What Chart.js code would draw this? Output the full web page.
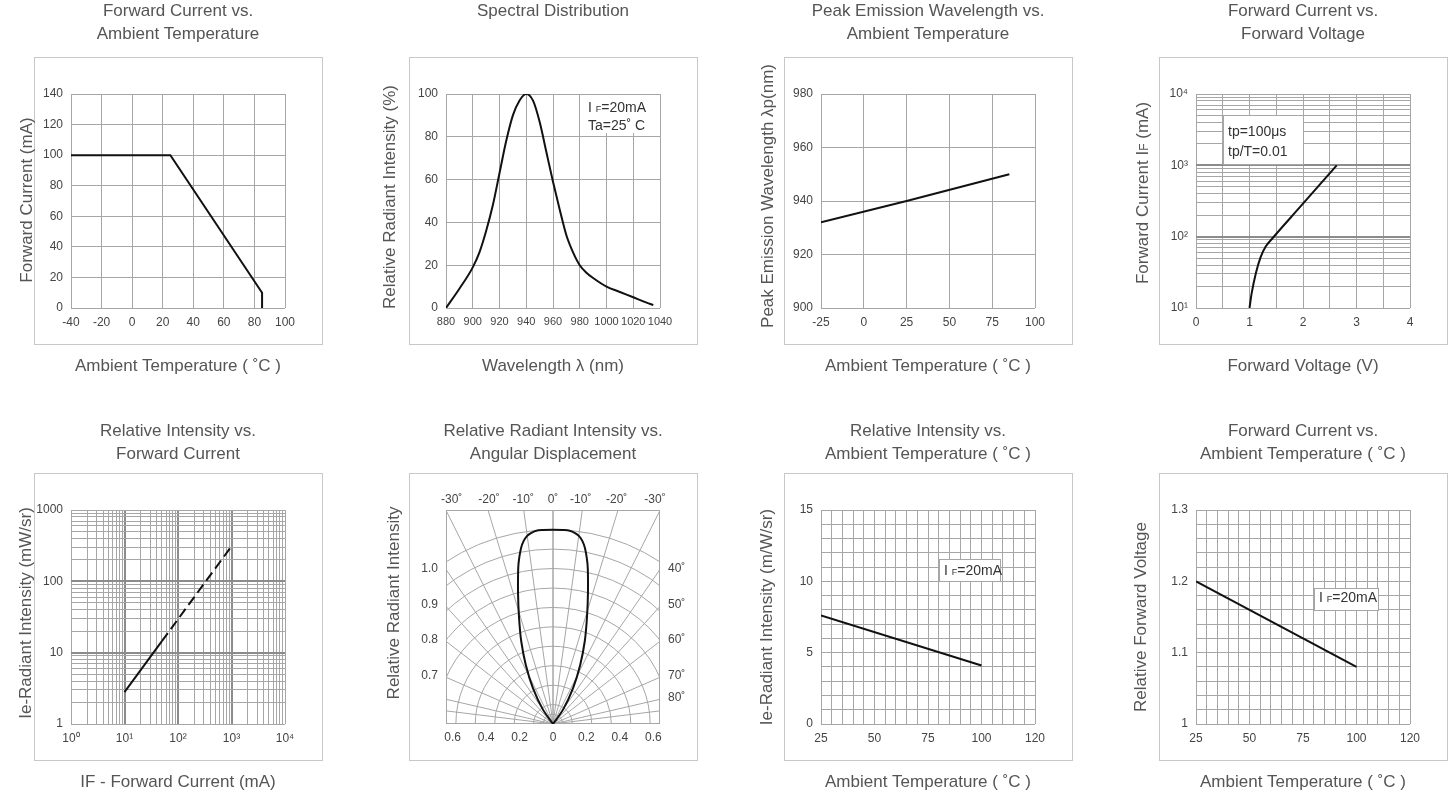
<!DOCTYPE html>
<html>
<head>
<meta charset="utf-8">
<title>IR LED typical characteristics</title>
<script src="https://cdn.jsdelivr.net/npm/chart.js@4.4.1/dist/chart.umd.min.js"></script>
<style>
  html, body { margin: 0; padding: 0; background: #fff; }
  body { width: 1449px; height: 796px; overflow: hidden; position: relative; }
  canvas { position: absolute; }
</style>
</head>
<body>
<canvas id="derate" width="356" height="380" style="left:0px;top:0px"></canvas>
<canvas id="spectrum" width="356" height="380" style="left:375px;top:0px"></canvas>
<canvas id="peak" width="356" height="380" style="left:750px;top:0px"></canvas>
<canvas id="iv" width="356" height="380" style="left:1125px;top:0px"></canvas>
<canvas id="ieIf" width="356" height="380" style="left:0px;top:416px"></canvas>
<canvas id="lobe" width="356" height="380" style="left:375px;top:416px"></canvas>
<canvas id="ieTa" width="356" height="380" style="left:750px;top:416px"></canvas>
<canvas id="vfTa" width="356" height="380" style="left:1125px;top:416px"></canvas>
<script>
// ---- data ----

// forward current derating
const derateTa = [-40, 25, 85, 85];
const derateIf = [100, 100, 10, 0];

// spectral distribution
const specNm = [880, 890, 900, 905, 910, 915, 920, 925, 930, 935, 940, 945, 950, 955, 960, 965, 970, 975, 980, 985, 990, 1000, 1010, 1020, 1030, 1035];
const specPct = [0, 9, 19, 26, 36, 48, 63, 78, 90, 97, 100, 97, 87, 73, 59, 46, 34, 26, 20, 16.5, 14, 10, 7.5, 5, 2.5, 1.4];

// peak wavelength vs ambient temperature
const peakTa = [-25, 25, 85];
const peakNm = [932, 940, 950];

// forward current vs forward voltage
const ivVf = [1.0, 1.04, 1.12, 1.21, 1.3, 1.43, 1.95, 2.63];
const ivIf = [10, 16, 31, 52, 72, 95, 263, 1000];

// radiant intensity vs forward current (solid measured, dashed extended)
const ieSolidIf = [10, 50];
const ieSolid = [2.8, 14.5];
const ieDashIf = [50, 1000];
const ieDash = [14.5, 310];

// radiation lobe, lateral / axial in chart units
const lobeX = [0, -0.060, -0.120, -0.163, -0.190, -0.203, -0.209, -0.208, -0.202, -0.191, -0.176, -0.156, -0.132, -0.100, -0.060, 0,
               0.060, 0.100, 0.132, 0.156, 0.176, 0.191, 0.202, 0.208, 0.209, 0.203, 0.190, 0.163, 0.120, 0.060, 0];
const lobeY = [0, 0.086, 0.215, 0.355, 0.495, 0.634, 0.778, 0.933, 0.993, 1.053, 1.094, 1.124, 1.142, 1.156, 1.160, 1.162,
               1.160, 1.156, 1.142, 1.124, 1.094, 1.053, 0.993, 0.933, 0.778, 0.634, 0.495, 0.355, 0.215, 0.086, 0];
const lobeArcs = [0.058, 0.116, 0.232, 0.349, 0.465, 0.581, 0.697, 0.813, 0.930, 1.046, 1.162];
const lobeRays = [0, 7.8, 16.9, 26.6, 34.7, 42.3, 52.3, 66.4, 77, 83, 90];

// radiant intensity vs ambient temperature
const ieTaX = [25, 100];
const ieTaY = [7.6, 4.1];

// relative forward voltage vs ambient temperature
const vfTaX = [25, 100];
const vfTaY = [1.2, 1.08];

// ---- tick labels ----
const ivXTicks = [0, 1, 2, 3, 4];
const ivXLabels = ['0', '1', '2', '3', '4'];
const ivYTicks = [10, 100, 1000, 10000];
const ivYLabels = ['10¹', '10²', '10³', '10⁴'];
const ieXTicks = [1, 10, 100, 1000, 10000];
const ieXLabels = ['10⁰', '10¹', '10²', '10³', '10⁴'];
const ieYTicks = [1, 10, 100, 1000];
const ieYLabels = ['1', '10', '100', '1000'];
const lobeBottomTicks = [-0.6, -0.4, -0.2, 0, 0.2, 0.4, 0.6];
const lobeBottomLabels = ['0.6', '0.4', '0.2', '0', '0.2', '0.4', '0.6'];
const lobeTopTicks = [-0.606, -0.383, -0.178, 0, 0.166, 0.381, 0.61];
const lobeTopLabels = ['-30˚', '-20˚', '-10˚', '0˚', '-10˚', '-20˚', '-30˚'];
const lobeLeftTicks = [0.931, 0.712, 0.502, 0.287];
const lobeLeftLabels = ['1.0', '0.9', '0.8', '0.7'];
const lobeRightTicks = [0.931, 0.712, 0.502, 0.287, 0.156];
const lobeRightLabels = ['40˚', '50˚', '60˚', '70˚', '80˚'];
const tempTicks = [25, 50, 75, 100, 125];
const tempLabels = ['25', '50', '75', '100', '120'];
const ieTaYTicks = [0, 5, 10, 15];
const ieTaYLabels = ['0', '5', '10', '15'];
const vfYTicks = [1, 1.1, 1.2, 1.3];
const vfYLabels = ['1', '1.1', '1.2', '1.3'];

// ---- look ----
const FONT = "'Liberation Sans', Arial, Helvetica, sans-serif";
const TITLE = '#555';
const TICK = '#444';
const GRID = '#a6a6a6';
const MAJOR = '#8c8c8c';
const FRAME = '#c8c8c8';
const LINE = '#111';

Chart.defaults.font.family = FONT;
Chart.defaults.color = TICK;

function near(a, b) { return Math.abs(a - b) < 1e-6 * Math.max(1, Math.abs(b)); }
function pick(vals, labels) {
  return v => { const i = vals.findIndex(t => near(v, t)); return i < 0 ? '' : labels[i]; };
}
function plain(v) { return String(+(+v).toFixed(6)); }
function decades(lo, hi) {
  const t = [];
  for (let d = lo; d < hi; d *= 10) for (let k = 1; k < 10; k++) t.push(d * k);
  t.push(hi);
  return t;
}

function axis(pos, o) {
  o = o || {};
  const horiz = pos === 'top' || pos === 'bottom';
  const major = o.major || [];
  const a = {
    type: o.type || 'linear',
    position: pos,
    display: true,
    grid: {
      display: !!o.grid,
      drawTicks: false,
      color: c => (c.tick && major.some(m => near(c.tick.value, m)) ? MAJOR : GRID),
      lineWidth: c => (c.tick && major.some(m => near(c.tick.value, m)) ? 2 : 1)
    },
    border: { display: false },
    ticks: {
      display: !!o.label,
      padding: o.pad != null ? o.pad : (horiz ? 7 : 8),
      autoSkip: false,
      maxRotation: 0,
      minRotation: 0,
      color: TICK,
      font: { size: o.fontSize || 12 },
      callback: o.label || (() => '')
    },
    title: {
      display: !!o.title,
      text: o.title || '',
      color: TITLE,
      font: { size: 17 },
      padding: { top: 0, bottom: 3 }
    },
    afterFit: s => { if (horiz) s.height = o.size; else s.width = o.size; }
  };
  if (o.min != null) a.min = o.min;
  if (o.max != null) a.max = o.max;
  if (o.step) a.ticks.stepSize = o.step;
  if (o.ticks) a.afterBuildTicks = s => { s.ticks = o.ticks.map(v => ({ value: v })); };
  return a;
}

function series(xs, ys, extra) {
  return Object.assign({
    data: xs.map((x, i) => ({ x: x, y: ys[i] })),
    showLine: true,
    borderColor: LINE,
    borderWidth: 2,
    pointRadius: 0,
    fill: false,
    tension: 0
  }, extra || {});
}

// grey frame round each plot
const framePlugin = {
  id: 'frame',
  beforeDraw(chart) {
    const a = chart.chartArea, ctx = chart.ctx;
    ctx.save();
    ctx.strokeStyle = FRAME;
    ctx.lineWidth = 1;
    ctx.strokeRect(Math.round(a.left) - 37 + 0.5, Math.round(a.top) - 37 + 0.5, 288, 287);
    ctx.restore();
  }
};

// rotated y titles (drawn by hand so long ones are not squeezed)
const sideTitles = {
  derate: { parts: [['Forward Current (mA)', 17]], x: 26, dy: -1 },
  spectrum: { parts: [['Relative Radiant Intensity (%)', 17]], x: 14, dy: -4 },
  peak: { parts: [['Peak Emission Wavelength λp(nm)', 17]], x: 17, dy: -5 },
  iv: { parts: [['Forward Current I', 17], ['F', 12], [' (mA)', 17]], x: 17, dy: -8 },
  ieIf: { parts: [['Ie-Radiant Intensity (mW/sr)', 17]], x: 25, dy: -4 },
  lobe: { parts: [['Relative Radiant Intensity', 17]], x: 18, dy: -14 },
  ieTa: { parts: [['Ie-Radiant Intensity (m/W/sr)', 17]], x: 16, dy: 0 },
  vfTa: { parts: [['Relative Forward Voltage', 17]], x: 15, dy: 0 }
};

function drawParts(ctx, parts, x, baseline) {
  let cx = x;
  parts.forEach(p => {
    ctx.font = p[1] + 'px ' + FONT;
    ctx.fillText(p[0], cx, baseline);
    cx += ctx.measureText(p[0]).width;
  });
}
function partsWidth(ctx, parts) {
  let w = 0;
  parts.forEach(p => { ctx.font = p[1] + 'px ' + FONT; w += ctx.measureText(p[0]).width; });
  return w;
}

const sideTitlePlugin = {
  id: 'sideTitle',
  afterDraw(chart) {
    const t = sideTitles[chart.canvas.id];
    if (!t) return;
    const { ctx, chartArea: a } = chart;
    ctx.save();
    ctx.translate(t.x, (a.top + a.bottom) / 2 + t.dy);
    ctx.rotate(-Math.PI / 2);
    ctx.fillStyle = TITLE;
    ctx.textAlign = 'left';
    ctx.textBaseline = 'alphabetic';
    const w = partsWidth(ctx, t.parts);
    drawParts(ctx, t.parts, -w / 2, 6);
    ctx.restore();
  }
};

// white legend boxes inside the plots
const notes = {
  spectrum: { box: [980, 1040, 82, 100], dx: 8, dy: 13, gap: 18,
    lines: [[['I ', 14], ['F', 9], ['=20mA', 14]], [['Ta=25˚ C', 14]]] },
  iv: { box: [0.5, 2.0, 1040, 5080], outline: true, dx: 5, dy: 16, gap: 20,
    lines: [[['tp=100μs', 14]], [['tp/T=0.01', 14]]] },
  ieTa: { box: [80, 108.5, 10, 11.6], outline: true, dx: 5, dy: 10.5, gap: 0,
    lines: [[['I ', 14], ['F', 9], ['=20mA', 14]]] },
  vfTa: { box: [80, 110, 1.16, 1.19], outline: true, dx: 5, dy: 9, gap: 0,
    lines: [[['I ', 14], ['F', 9], ['=20mA', 14]]] }
};

const notePlugin = {
  id: 'note',
  beforeDatasetsDraw(chart) {
    const n = notes[chart.canvas.id];
    if (!n) return;
    const { ctx, scales: { x, y } } = chart;
    const l = Math.round(x.getPixelForValue(n.box[0]));
    const r = Math.round(x.getPixelForValue(n.box[1]));
    const t = Math.round(y.getPixelForValue(n.box[3]));
    const b = Math.round(y.getPixelForValue(n.box[2]));
    ctx.save();
    ctx.fillStyle = '#fff';
    ctx.fillRect(l + 1, t + 1, r - l - 1, b - t - 1);
    if (n.outline) {
      ctx.strokeStyle = GRID;
      ctx.lineWidth = 1;
      ctx.strokeRect(l + 0.5, t + 0.5, r - l, b - t);
    }
    ctx.fillStyle = '#333';
    ctx.textAlign = 'left';
    ctx.textBaseline = 'alphabetic';
    n.lines.forEach((line, i) => {
      drawParts(ctx, line, l + n.dx, t + n.dy + i * n.gap + 5);
    });
    ctx.restore();
  }
};

// arcs and rays of the angular diagram
const lobeGridPlugin = {
  id: 'lobeGrid',
  beforeDatasetsDraw(chart) {
    const { ctx, chartArea: a, scales } = chart;
    const ox = scales.x.getPixelForValue(0);
    const oy = scales.y.getPixelForValue(0);
    const u = scales.x.getPixelForValue(1) - ox;
    ctx.save();
    ctx.beginPath();
    ctx.rect(a.left, a.top, a.right - a.left, a.bottom - a.top);
    ctx.clip();
    ctx.strokeStyle = GRID;
    ctx.lineWidth = 1;
    lobeArcs.forEach(r => {
      ctx.beginPath();
      ctx.arc(ox, oy, r * u, Math.PI, 2 * Math.PI);
      ctx.stroke();
    });
    lobeRays.forEach(deg => {
      const t = deg * Math.PI / 180;
      [-1, 1].forEach(s => {
        ctx.beginPath();
        ctx.moveTo(ox, oy);
        ctx.lineTo(ox + s * Math.sin(t) * 2 * u, oy - Math.cos(t) * 2 * u);
        ctx.stroke();
      });
    });
    ctx.restore();
    ctx.save();
    ctx.strokeStyle = GRID;
    ctx.lineWidth = 1;
    ctx.strokeRect(Math.round(a.left) + 0.5, Math.round(a.top) + 0.5, Math.round(a.right - a.left) - 1, Math.round(a.bottom - a.top) - 1);
    ctx.restore();
  }
};

function makeChart(id, row, o) {
  return new Chart(document.getElementById(id), {
    type: 'scatter',
    data: { datasets: o.datasets },
    options: {
      responsive: false,
      animation: false,
      events: [],
      layout: { padding: 0 },
      plugins: {
        legend: { display: false },
        tooltip: { enabled: false },
        title: {
          display: true,
          text: o.title,
          color: TITLE,
          font: { size: 17, weight: 'normal', lineHeight: '23px' },
          padding: row === 0 ? { top: 0, bottom: 18 } : { top: 4, bottom: 14 }
        }
      },
      scales: {
        x: axis('bottom', Object.assign({ size: 72, grid: true }, o.x)),
        y: axis('left', Object.assign({ size: 71, grid: true }, o.y)),
        xTop: axis('top', Object.assign({ size: 30 }, o.xTop)),
        yRight: axis('right', Object.assign({ size: 71 }, o.yRight))
      }
    },
    plugins: [framePlugin, notePlugin, sideTitlePlugin].concat(o.plugins || [])
  });
}

makeChart('derate', 0, {
  title: ['Forward Current vs.', 'Ambient Temperature'],
  x: { min: -40, max: 100, step: 20, label: plain, title: 'Ambient Temperature ( ˚C )' },
  y: { min: 0, max: 140, step: 20, label: plain },
  datasets: [series(derateTa, derateIf)]
});

makeChart('spectrum', 0, {
  title: ['Spectral Distribution', ''],
  x: { min: 880, max: 1040, step: 20, label: plain, fontSize: 11, title: 'Wavelength λ (nm)' },
  y: { min: 0, max: 100, step: 20, label: plain },
  datasets: [series(specNm, specPct, { cubicInterpolationMode: 'monotone' })]
});

makeChart('peak', 0, {
  title: ['Peak Emission Wavelength vs.', 'Ambient Temperature'],
  x: { min: -25, max: 100, step: 25, label: plain, title: 'Ambient Temperature ( ˚C )' },
  y: { min: 900, max: 980, step: 20, label: plain },
  datasets: [series(peakTa, peakNm)]
});

makeChart('iv', 0, {
  title: ['Forward Current vs.', 'Forward Voltage'],
  x: { min: 0, max: 4, step: 0.5, label: pick(ivXTicks, ivXLabels), title: 'Forward Voltage (V)' },
  y: { type: 'logarithmic', min: 10, max: 10000, ticks: decades(10, 10000), major: [100, 1000], label: pick(ivYTicks, ivYLabels) },
  datasets: [series(ivVf, ivIf, { cubicInterpolationMode: 'monotone' })]
});

makeChart('ieIf', 1, {
  title: ['Relative Intensity vs.', 'Forward Current'],
  x: { type: 'logarithmic', min: 1, max: 10000, ticks: decades(1, 10000), major: [10, 100, 1000], label: pick(ieXTicks, ieXLabels), title: 'IF - Forward Current (mA)' },
  y: { type: 'logarithmic', min: 1, max: 1000, ticks: decades(1, 1000), major: [10, 100], label: pick(ieYTicks, ieYLabels) },
  datasets: [
    series(ieSolidIf, ieSolid),
    series(ieDashIf, ieDash, { borderDash: [10, 5] })
  ]
});

makeChart('lobe', 1, {
  title: ['Relative Radiant Intensity vs.', 'Angular Displacement'],
  x: { min: -0.64, max: 0.64, grid: false, ticks: lobeBottomTicks, label: pick(lobeBottomTicks, lobeBottomLabels), pad: 6 },
  y: { min: 0, max: 1.28, grid: false, ticks: lobeLeftTicks, label: pick(lobeLeftTicks, lobeLeftLabels) },
  xTop: { min: -0.64, max: 0.64, ticks: lobeTopTicks, label: pick(lobeTopTicks, lobeTopLabels), pad: 3 },
  yRight: { min: 0, max: 1.28, ticks: lobeRightTicks, label: pick(lobeRightTicks, lobeRightLabels) },
  datasets: [series(lobeX, lobeY, { tension: 0.3 })],
  plugins: [lobeGridPlugin]
});

makeChart('ieTa', 1, {
  title: ['Relative Intensity vs.', 'Ambient Temperature ( ˚C )'],
  x: { min: 25, max: 125, step: 5, label: pick(tempTicks, tempLabels), title: 'Ambient Temperature ( ˚C )' },
  y: { min: 0, max: 15, step: 1, label: pick(ieTaYTicks, ieTaYLabels) },
  datasets: [series(ieTaX, ieTaY)]
});

makeChart('vfTa', 1, {
  title: ['Forward Current vs.', 'Ambient Temperature ( ˚C )'],
  x: { min: 25, max: 125, step: 5, label: pick(tempTicks, tempLabels), title: 'Ambient Temperature ( ˚C )' },
  y: { min: 1, max: 1.3, step: 0.02, label: pick(vfYTicks, vfYLabels) },
  datasets: [series(vfTaX, vfTaY)]
});
</script>
</body>
</html>
